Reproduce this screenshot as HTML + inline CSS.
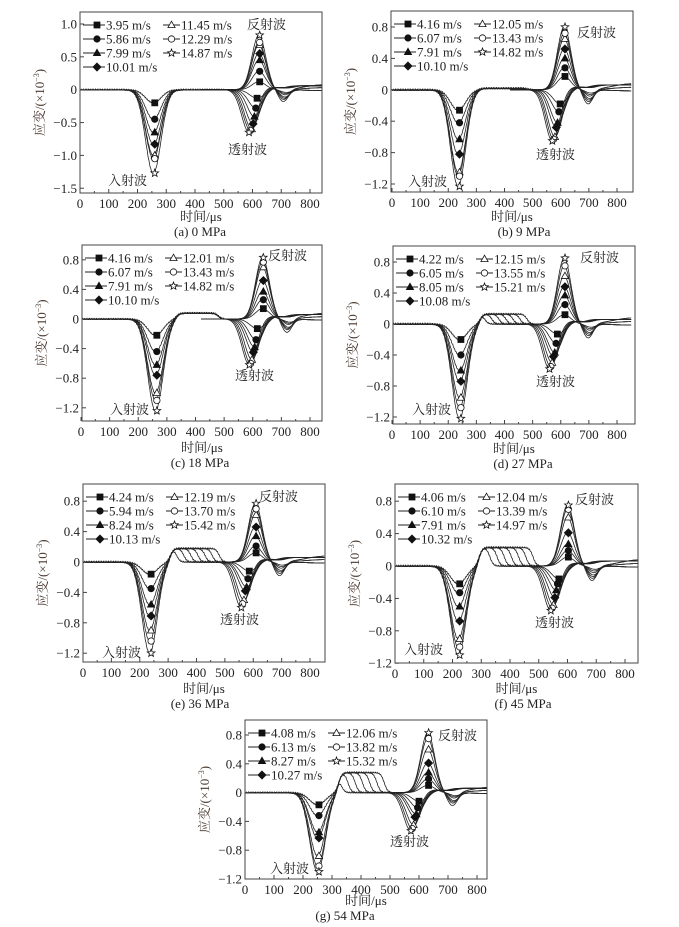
<!DOCTYPE html>
<html><head><meta charset="utf-8"><style>
html,body{margin:0;padding:0;background:#fff;}
svg{display:block;font-family:"Liberation Serif","Noto Serif CJK SC",serif;}
</style></head><body>
<svg id="s" width="679" height="927" viewBox="0 0 679 927" xmlns="http://www.w3.org/2000/svg"></svg>
<script>
var S=document.getElementById('s'),out='';
var P=[
{fx:[80,322],fy:[12,193],x0:80,sx:230/800,y0:89.7,sy:65.7,ticks:[1.0,0.5,0,-0.5,-1.0,-1.5],
 leg:['3.95','5.86','7.99','10.01','11.45','12.29','14.87'],
 I:[.2,.45,.65,.83,1.0,1.05,1.27],ci:255,T:[.13,.28,.41,.52,.6,.62,.65],ct:588,R:[.12,.28,.45,.55,.68,.72,.83],cr:622,pl:.0,
 lab:[[108,185],[228,154],[247,29]],cap:'(a) 0 MPa',cx:200,cy:236},
{fx:[391,633],fy:[11,192],x0:392,sx:225/800,y0:89.8,sy:78.5,ticks:[.8,.4,0,-.4,-.8,-1.2],
 leg:['4.16','6.07','7.91','10.10','12.05','13.43','14.82'],
 I:[.26,.42,.63,.82,1.05,1.1,1.23],ci:235,T:[.18,.28,.42,.48,.6,.63,.65],ct:570,R:[.17,.28,.4,.52,.65,.72,.8],cr:612,pl:.02,
 lab:[[408,186],[536,159],[577,37]],cap:'(b) 9 MPa',cx:524,cy:236},
{fx:[82,322],fy:[245,421],x0:81,sx:229/800,y0:319,sy:74,ticks:[.8,.4,0,-.4,-.8,-1.2],
 leg:['4.16','6.07','7.91','10.10','12.01','13.43','14.82'],
 I:[.22,.44,.62,.76,1.0,1.1,1.24],ci:260,T:[.13,.28,.38,.45,.55,.6,.62],ct:588,R:[.14,.26,.37,.52,.7,.77,.83],cr:634,pl:.08,
 lab:[[110,414],[235,380],[268,260]],cap:'(c) 18 MPa',cx:200,cy:467},
{fx:[393,635],fy:[246,424],x0:392,sx:225/800,y0:324,sy:77.5,ticks:[.8,.4,0,-.4,-.8,-1.2],
 leg:['4.22','6.05','8.05','10.08','12.15','13.55','15.21'],
 I:[.2,.4,.6,.74,.95,1.08,1.22],ci:240,T:[.13,.25,.37,.42,.5,.55,.58],ct:560,R:[.12,.25,.37,.48,.62,.75,.85],cr:612,pl:.13,
 lab:[[412,414],[536,386],[580,262]],cap:'(d) 27 MPa',cx:523,cy:468},
{fx:[83,325],fy:[484,662],x0:83,sx:227/800,y0:562,sy:76,ticks:[.8,.4,0,-.4,-.8,-1.2],
 leg:['4.24','5.94','8.24','10.13','12.19','13.70','15.42'],
 I:[.16,.35,.56,.71,.9,1.04,1.2],ci:235,T:[.12,.22,.33,.38,.5,.55,.6],ct:558,R:[.12,.21,.34,.46,.62,.7,.77],cr:607,pl:.18,
 lab:[[102,657],[220,624],[259,501]],cap:'(e) 36 MPa',cx:200,cy:708},
{fx:[395,638],fy:[484,663],x0:395,sx:230/800,y0:566,sy:81,ticks:[.8,.4,0,-.4,-.8,-1.2],
 leg:['4.06','6.10','7.91','10.32','12.04','13.39','14.97'],
 I:[.22,.33,.5,.68,.9,1.0,1.1],ci:220,T:[.16,.22,.3,.39,.48,.52,.55],ct:542,R:[.11,.19,.27,.41,.6,.7,.75],cr:600,pl:.23,
 lab:[[404,654],[535,627],[575,504]],cap:'(f) 45 MPa',cx:523,cy:708},
{fx:[245,487],fy:[720,879],x0:245,sx:232/800,y0:792.6,sy:72,ticks:[.8,.4,0,-.4,-.8,-1.2],
 leg:['4.08','6.13','8.27','10.27','12.06','13.82','15.32'],
 I:[.17,.32,.55,.63,.88,1.02,1.1],ci:250,T:[.12,.21,.3,.34,.45,.5,.53],ct:572,R:[.1,.19,.28,.41,.6,.75,.83],cr:630,pl:.28,
 lab:[[270,873],[390,846],[438,740]],cap:'(g) 54 MPa',cx:345,cy:920}
];
function g(t,c,w){var d=(t-c)/w;return Math.exp(-d*d);}
function sg(t,c,w){return 1/(1+Math.exp(-(t-c)/w));}
function mk(type,x,y,fill){
 var f=fill?'#111':'#fff',st='stroke="#111" stroke-width="0.8" fill="'+f+'"';
 if(type==0)return '<rect x="'+(x-3)+'" y="'+(y-3)+'" width="6" height="6" '+st+'/>';
 if(type==1)return '<circle cx="'+x+'" cy="'+y+'" r="3.2" '+st+'/>';
 if(type==2)return '<polygon points="'+x+','+(y-3.8)+' '+(x+3.6)+','+(y+2.6)+' '+(x-3.6)+','+(y+2.6)+'" '+st+'/>';
 if(type==3)return '<polygon points="'+x+','+(y-4)+' '+(x+4)+','+y+' '+x+','+(y+4)+' '+(x-4)+','+y+'" '+st+'/>';
 var p='';for(var i=0;i<10;i++){var r=i%2?1.7:4,a=-Math.PI/2+i*Math.PI/5;p+=(x+r*Math.cos(a)).toFixed(1)+','+(y+r*Math.sin(a)).toFixed(1)+' ';}
 return '<polygon points="'+p+'" '+st+'/>';
}
var types=[0,1,2,3,2,1,4],fills=[1,1,1,1,0,0,0];
P.forEach(function(p,pi){
 var L=p.fx[0],Rr=p.fx[1],Tp=p.fy[0],B=p.fy[1];
 var X=function(t){return p.x0+t*p.sx;},Y=function(v){return p.y0-v*p.sy;};
 out+='<defs><clipPath id="c'+pi+'"><rect x="'+L+'" y="'+Tp+'" width="'+(Rr-L)+'" height="'+(B-Tp)+'"/></clipPath></defs>';
 out+='<g clip-path="url(#c'+pi+')" fill="none" stroke="#222" stroke-width="0.8">';
 for(var k=0;k<7;k++){
  var f=k/6,d='',d2='';
  var pe=(pi>=3)?(330+f*150):(480);
  var tc=p.ct+(1-f)*28;
  for(var t=0;t<=850;t+=2){
   var v=-p.I[k]*g(t,p.ci,38)+p.pl*sg(t,p.ci+72,6)*(1-sg(t,pe,6))
     +p.R[k]*g(t,p.cr,34)-(0.04+0.14*f)*g(t,p.cr+95-f*10,24)
     +0.05*sg(t,780,30)*(k%3-0.3)+((t%6==0)?0.006:-0.006)*(t<500?1:0);
   d+=(t?'L':'M')+X(t).toFixed(1)+' '+Y(v).toFixed(1);
   if(t>=420){
    var w=-p.T[k]*g(t,tc,36)*(t<tc?1:1)+0.06*sg(t,tc+60,15)-0.03*g(t,tc+110,30);
    d2+=(t==420?'M':'L')+X(t).toFixed(1)+' '+Y(w).toFixed(1);
   }
  }
  out+='<path d="'+d+'"/><path d="'+d2+'"/>';
 }
 out+='</g>';
 for(var k=0;k<7;k++){
  var f=k/6,tc=p.ct+(1-f)*28;
  out+=mk(types[k],X(p.ci+5),Y(-p.I[k]),fills[k]);
  out+=mk(types[k],X(tc),Y(-p.T[k]),fills[k]);
  out+=mk(types[k],X(p.cr+3),Y(p.R[k]),fills[k]);
 }
 out+='<rect x="'+L+'" y="'+Tp+'" width="'+(Rr-L)+'" height="'+(B-Tp)+'" fill="none" stroke="#444" stroke-width="1"/>';
 for(var t=0;t<=800;t+=50){var x=X(t),h=(t%100==0)?4:2;
  out+='<line x1="'+x+'" y1="'+B+'" x2="'+x+'" y2="'+(B-h)+'" stroke="#444"/>';
  if(t%100==0)out+='<text x="'+x+'" y="'+(B+15)+'" font-size="13" text-anchor="middle" fill="#222">'+t+'</text>';}
 p.ticks.forEach(function(v){var y=Y(v);
  out+='<line x1="'+L+'" y1="'+y+'" x2="'+(L+4)+'" y2="'+y+'" stroke="#444"/>';
  var s=v==0?'0':v.toFixed(1).replace('-','\u2212');
  out+='<text x="'+(L-3)+'" y="'+(y+4.5)+'" font-size="13" text-anchor="end" fill="#222">'+s+'</text>';});
 var ym=(Tp+B)/2,yx=L-36;
 out+='<text transform="translate('+yx+','+ym+') rotate(-90)" font-size="13" text-anchor="middle" fill="#4a3a30">应变/(×10<tspan font-size="8" dy="-5">−3</tspan><tspan dy="5">)</tspan></text>';
 out+='<text x="'+((L+Rr)/2)+'" y="'+(p.cy-15)+'" font-size="13" text-anchor="middle" fill="#222">时间/μs</text>';
 out+='<text x="'+p.cx+'" y="'+p.cy+'" font-size="13" text-anchor="middle" fill="#222">'+p.cap+'</text>';
 for(var k=0;k<7;k++){
  var col=k<4?0:1,row=k<4?k:k-4;
  var ly=Tp+13+row*14,lx=col?L+83:L+3;
  var lw=col?17:22;
  out+='<line x1="'+lx+'" y1="'+ly+'" x2="'+(lx+lw)+'" y2="'+ly+'" stroke="#222" stroke-width="1"/>';
  out+=mk(types[k],lx+lw/2+(col?0:3),ly,fills[k]);
  out+='<text x="'+(lx+lw+1)+'" y="'+(ly+4.5)+'" font-size="13" fill="#222">'+p.leg[k]+' m/s</text>';
 }
 var nm=['入射波','透射波','反射波'];
 p.lab.forEach(function(a,i){out+='<text x="'+a[0]+'" y="'+a[1]+'" font-size="13" fill="#222" font-family="Noto Serif CJK SC,serif">'+nm[i]+'</text>';});
});
S.innerHTML=out;
</script>
</body></html>
